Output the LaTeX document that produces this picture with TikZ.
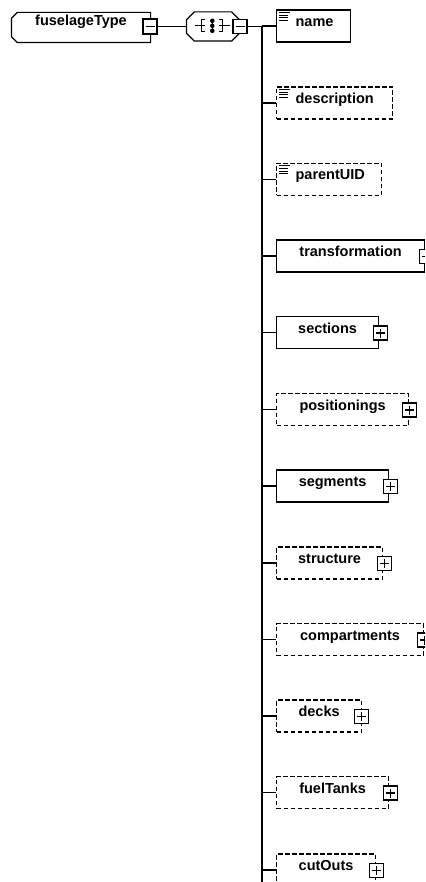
\documentclass[tikz,border=0pt]{standalone}
\usepackage{fontspec}
\newfontfamily\schemafont{Liberation Sans}
\usetikzlibrary{calc}

% expander box with a minus sign
\newcommand\xsdminus[3][]{%
  \node[expander,#1] (#2) at (#3) {};
  \draw (#2.center) ++(-4.5,0) -- ++(9,0);
}
% expander box with a plus sign
\newcommand\xsdplus[2]{%
  \node[expander] (#1) at (#2) {};
  \draw (#1.center) ++(-4.5,0) -- ++(9,0) (#1.center) ++(0,-4.5) -- ++(0,9);
}
% child element box hung on the trunk: name, width, middle y, style, label
\newcommand\xsdelem[5]{%
  \node[box, minimum width=#2pt, #4] (#1) at (276,#3) {#5};
  \draw (trunk |- #1.west) -- (#1.west);
}
% simple-content marker in the upper left corner of a box
\newcommand\xsdicon[1]{%
  \draw[line width=0.9pt] ([xshift=3pt,yshift=-3pt]#1.north west) -- ++(11,0)
    ++(-11,2.6) -- ++(9,0) ++(-9,2.6) -- ++(9,0) ++(-9,2.6) -- ++(9,0);
}

\begin{document}
\begin{tikzpicture}[x=1pt,y=-1pt,line width=1.2pt,
  box/.style={draw, fill=white, inner sep=0pt, minimum height=32pt,
    text height=5pt, text depth=4pt, anchor=west,
    font=\schemafont\bfseries\fontsize{14.5pt}{16pt}\selectfont},
  optional/.style={dash pattern=on 4.5pt off 2.5pt},
  leaf/.style={text width=#1pt, align=left},
  expander/.style={draw, fill=white, solid, line width=1.2pt,
    minimum width=14pt, minimum height=14pt, inner sep=0pt},
]
\useasboundingbox (0,0) rectangle (425,882);
\clip (0,0) rectangle (425,882);

% global element
\node[box, anchor=center, draw=none, fill=none, minimum width=138pt,
  minimum height=29pt, text height=4pt, text depth=7pt] (root) at (81,27.5) {fuselageType};
\draw ($(root.north west)+(6,0)$) -- (root.north east) -- (root.south east)
  -- ($(root.south west)+(6,0)$) -- ($(root.south west)+(0,-6)$)
  -- ($(root.north west)+(0,6)$) -- cycle;
\xsdminus[minimum height=15pt]{rootx}{150,26.5}

% sequence compositor
\node[minimum width=52pt, minimum height=28pt, inner sep=0pt] (seq) at (213,26.5) {};
\draw[fill=white] ($(seq.north west)+(8,0)$) -- ($(seq.north east)+(-8,0)$)
  -- ($(seq.north east)+(0,8)$) -- ($(seq.south east)+(0,-8)$)
  -- ($(seq.south east)+(-8,0)$) -- ($(seq.south west)+(8,0)$)
  -- ($(seq.south west)+(0,-8)$) -- ($(seq.north west)+(0,8)$) -- cycle;
\begin{scope}[shift={(212.3,25.8)}]
  \draw (-17,0) -- (-7,0) (-7,-6) -- (-10.5,-6) -- (-10.5,6) -- (-7,6);
  \draw (7,0) -- (17.5,0) (7,-6) -- (10.5,-6) -- (10.5,6) -- (7,6);
  \draw (0,-5) -- (0,5);
  \fill (0,-5) circle (2.3) (0,0) circle (2.3) (0,5) circle (2.3);
\end{scope}
\xsdminus{seqx}{240,26.5}

\draw (rootx.east) -- (seq.west);
\coordinate (trunk) at (262,26.5);
\coordinate (trunkend) at (262,890);
\draw (seqx.east) -- (trunk) -- (trunkend);

% child elements
\xsdelem{name}{74}{26}{leaf=74}{\hspace*{19pt}name}
\xsdicon{name}
\xsdelem{description}{116}{103}{optional, leaf=116}{\hspace*{19pt}description}
\xsdicon{description}
\xsdelem{parentUID}{105}{179.5}{optional, leaf=105}{\hspace*{19pt}parentUID}
\xsdicon{parentUID}

\xsdelem{transformation}{148}{256}{}{transformation}
\xsdplus{transformationx}{$(transformation.east)+(1.5,0.5)$}
\xsdelem{sections}{102}{332.5}{}{sections}
\xsdplus{sectionsx}{$(sections.east)+(1.5,0.5)$}
\xsdelem{positionings}{132}{409.5}{optional}{positionings}
\xsdplus{positioningsx}{$(positionings.east)+(0,0.5)$}
\xsdelem{segments}{112}{486}{}{segments}
\xsdplus{segmentsx}{$(segments.east)+(1,0.5)$}
\xsdelem{structure}{106}{563}{optional}{structure}
\xsdplus{structurex}{$(structure.east)+(1,0.5)$}
\xsdelem{compartments}{147}{639.5}{optional}{compartments}
\xsdplus{compartmentsx}{$(compartments.east)+(0,0.5)$}
\xsdelem{decks}{85}{716}{optional}{decks}
\xsdplus{decksx}{$(decks.east)+(-1,0.5)$}
\xsdelem{fuelTanks}{112}{792.5}{optional}{fuelTanks}
\xsdplus{fuelTanksx}{$(fuelTanks.east)+(1.5,0.5)$}
\xsdelem{cutOuts}{99}{870}{optional}{cutOuts}
\xsdplus{cutOutsx}{$(cutOuts.east)+(0,0.5)$}
\end{tikzpicture}
\end{document}
